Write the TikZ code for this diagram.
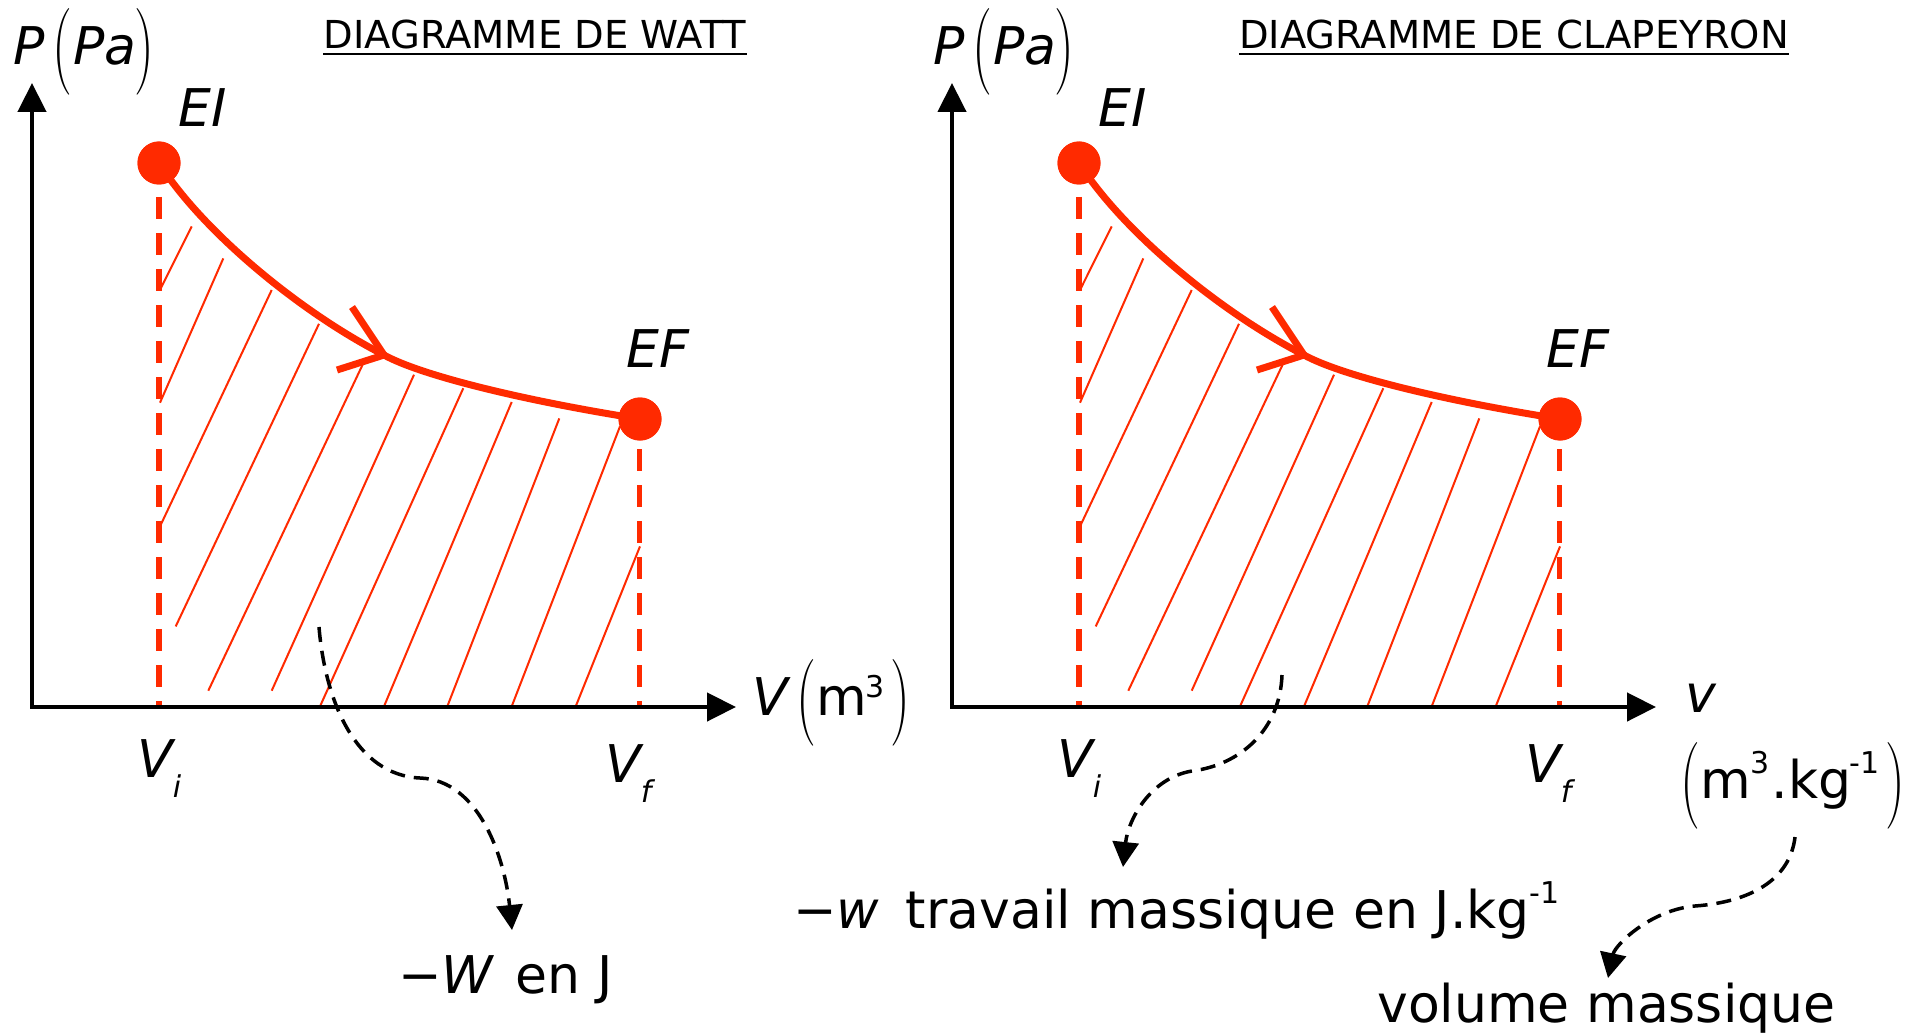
\documentclass[tikz,border=0pt]{standalone}
\usepackage{fontspec}
\setsansfont{DejaVu Sans}
\renewcommand{\familydefault}{\sfdefault}
\usepackage{graphicx}
\usetikzlibrary{arrows.meta}
\definecolor{pvred}{RGB}{255,42,0}
\newcommand{\bigparen}[1]{\raisebox{-9pt}{\scalebox{1}[1.55]{\rmfamily\upshape\fontsize{56}{56}\selectfont #1}}}
\newcommand{\sups}[2]{\raisebox{#1}{\upshape\fontsize{30}{30}\selectfont #2}}
\newcommand{\subs}[1]{\raisebox{-20pt}{\fontsize{30}{30}\selectfont\itshape #1}}
\tikzset{
  axis/.style={line width=4.5pt, {Triangle[length=29pt,width=28pt]}-{Triangle[length=29pt,width=28pt]}},
  proc/.style={line width=7pt, draw=pvred},
  guide/.style={line width=5.5pt, draw=pvred, dash pattern=on 22pt off 14pt},
  hatch/.style={line width=2pt, draw=pvred},
  note/.style={line width=3.5pt, dash pattern=on 15pt off 9pt, -{Triangle[length=25pt,width=26pt]}},
  dot/.style={circle, fill=pvred, minimum size=43pt, inner sep=0pt},
  lbl/.style={inner sep=0pt, anchor=base west, font=\fontsize{52}{62}\selectfont},
  title/.style={inner sep=0pt, anchor=base, font=\fontsize{38.5}{44}\selectfont},
  uline/.style={line width=2.2pt},
}
\newcommand{\pvdiagram}[1]{%
  % hatching
  \draw[hatch] (191.7,226.4) -- (160.0,290.0);
  \draw[hatch] (223.3,258.4) -- (160.0,402.7);
  \draw[hatch] (271.7,290.0) -- (160.0,526.4);
  \draw[hatch] (319.0,323.8) -- (175.7,626.4);
  \draw[hatch] (362.7,364.5) -- (208.3,690.7);
  \draw[hatch] (414.0,374.7) -- (271.7,690.7);
  \draw[hatch] (463.3,388.2) -- (320.0,706.4);
  \draw[hatch] (511.7,402.0) -- (384.0,706.4);
  \draw[hatch] (559.3,418.4) -- (447.3,706.4);
  \draw[hatch] (620.0,426.4) -- (511.7,706.4);
  \draw[hatch] (640.0,546.4) -- (575.7,706.4);
  % guides
  \coordinate (#1Vitop) at (159,197);
  \coordinate (#1Vibot) at (159,707);
  \coordinate (#1Vftop) at (639.5,449);
  \coordinate (#1Vfbot) at (639.5,707);
  \draw[guide] (#1Vitop) -- (#1Vibot);
  \draw[guide] (#1Vftop) -- (#1Vfbot);
  % process
  \node[dot] (#1EI) at (159,163) {};
  \node[dot] (#1EF) at (640,419) {};
  \coordinate (#1M) at (384,355);
  \coordinate (#1A1) at (352,307);
  \coordinate (#1A2) at (337,370);
  \draw[proc] (#1EI.center) .. controls (203,232) and (300,312) .. (#1M)
              .. controls (420,375) and (520,400) .. (#1EF.center);
  \draw[proc] (#1A1) -- (#1M) -- (#1A2);
  \node[dot] at (#1EI) {};
  \node[dot] at (#1EF) {};
  % axes
  \coordinate (#1O) at (32,707);
  \coordinate (#1Ytip) at (32,83);
  \coordinate (#1Xtip) at (736,707);
  \draw[axis] (#1Ytip) -- (#1O) -- (#1Xtip);
  % labels
  \node[lbl] (#1P) at (13,65) {\itshape P\hspace{8pt}\bigparen{(}\hspace{1pt}Pa\hspace{-2pt}\bigparen{)}};
  \node[lbl] (#1EIl) at (178,127) {\itshape EI};
  \node[lbl] (#1EFl) at (626,367) {\itshape EF};
  \node[lbl] (#1Vi) at (137,777) {\itshape V\hspace{0pt}\subs{i}};
  \node[lbl] (#1Vf) at (605,782) {\itshape V\hspace{0pt}\subs{f}};
}
\begin{document}
\begin{tikzpicture}[x=1pt,y=-1pt]
  \useasboundingbox[fill=white] (0,0) rectangle (1921,1035);
  \pvdiagram{L}
  \begin{scope}[xshift=920pt]
    \pvdiagram{R}
  \end{scope}
  % titles
  \node[title] (t1) at (535,49) {DIAGRAMME DE WATT};
  \draw[uline] ([yshift=-4pt]t1.south west) -- ([yshift=-4pt]t1.south east);
  \node[title] (t2) at (1514,49) {DIAGRAMME DE CLAPEYRON};
  \draw[uline] ([yshift=-4pt]t2.south west) -- ([yshift=-4pt]t2.south east);
  % axis labels
  \node[lbl] (LV) at (752,715) {\itshape V\hspace{9pt}\bigparen{(}\upshape m\hspace{-2pt}\sups{18pt}{3}\hspace{6pt}\bigparen{)}};
  \node[lbl] (Rv) at (1685,712) {\itshape v};
  \node[lbl] (Runit) at (1680,798) {\bigparen{(}\hspace{0pt}m\sups{25pt}{3}\hspace{2pt}.kg\hspace{-2pt}\sups{25pt}{-1}\hspace{6pt}\bigparen{)}};
  % notes
  \node[lbl] (Wlab) at (398,993) {−\itshape W\upshape\hspace{6pt} en J};
  \node[lbl] (wlab) at (793,928) {−\itshape w\upshape\hspace{10pt} travail massique en J.kg\sups{25pt}{-1}};
  \node[lbl] (vlab) at (1377,1022) {volume massique};
  \coordinate (n1s) at (319,627);
  \coordinate (n1m) at (420,778);
  \coordinate (n1e) at (512,930);
  \draw[note] (n1s) .. controls (325,700) and (355,775) .. (n1m)
              .. controls (480,780) and (505,860) .. (n1e);
  \coordinate (n2s) at (1282,675);
  \coordinate (n2m) at (1192,771);
  \coordinate (n2e) at (1123,867);
  \draw[note] (n2s) .. controls (1280,730) and (1240,765) .. (n2m)
              .. controls (1150,778) and (1128,820) .. (n2e);
  \coordinate (n3s) at (1795,837);
  \coordinate (n3m) at (1695,906);
  \coordinate (n3e) at (1608,978);
  \draw[note] (n3s) .. controls (1790,880) and (1750,902) .. (n3m)
              .. controls (1650,910) and (1615,945) .. (n3e);
\end{tikzpicture}
\end{document}
